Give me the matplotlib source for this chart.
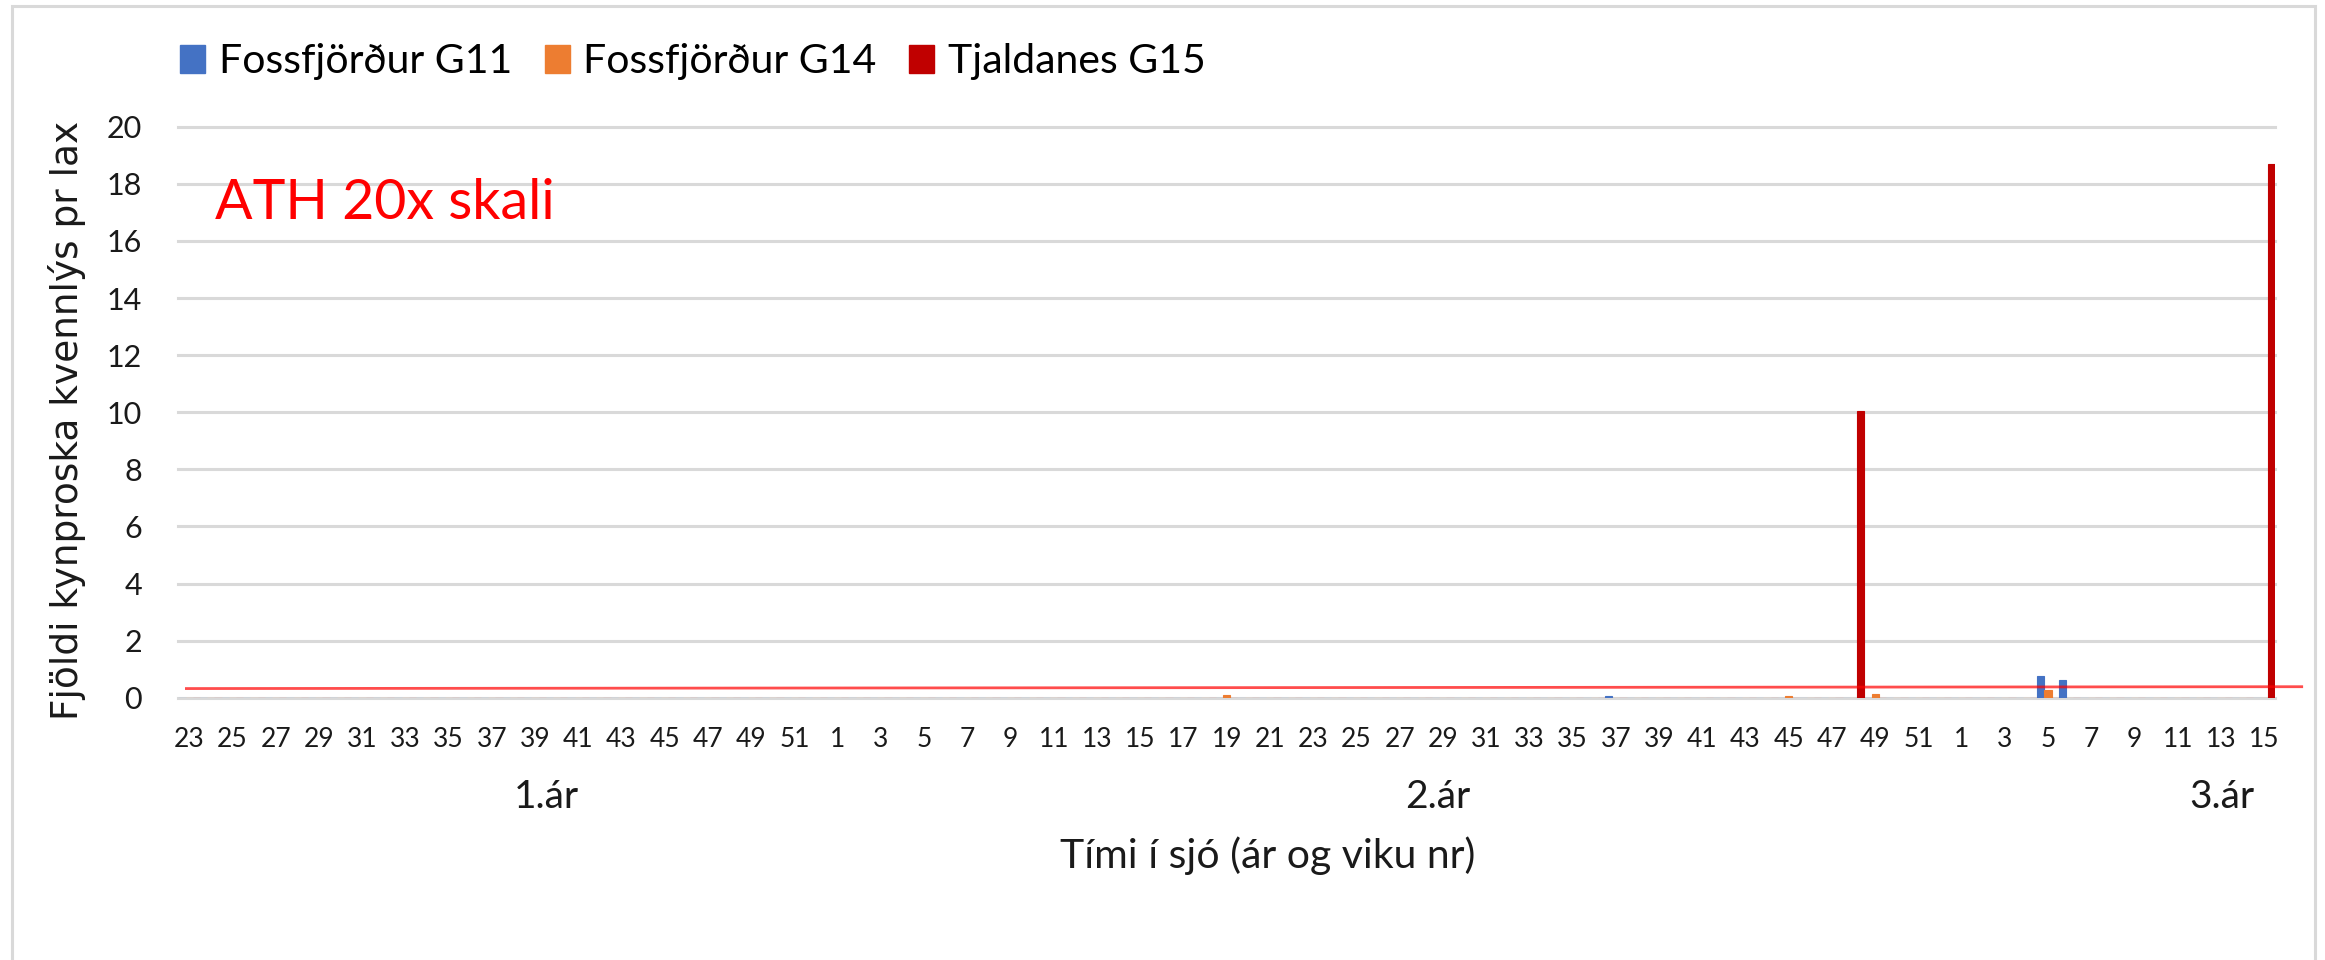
import matplotlib
matplotlib.use("Agg")
import matplotlib.pyplot as plt
from matplotlib.patches import Patch, Rectangle
import numpy as np

# ---------------- data ----------------
year1_weeks = list(range(23, 53))   # 1. ár
year2_weeks = list(range(1, 53))    # 2. ár
year3_weeks = list(range(1, 16))    # 3. ár

series_names = ["Fossfjörður G11", "Fossfjörður G14", "Tjaldanes G15"]
# sparse values: (year, week) -> value
g11_values = {(2, 37): 0.07, (3, 5): 0.75, (3, 6): 0.62}
g14_values = {(2, 19): 0.10, (2, 45): 0.07, (2, 49): 0.14, (3, 5): 0.28}
g15_values = {(2, 48): 10.05, (3, 15): 18.7}

threshold_start = 0.32   # red reference line, left end
threshold_end = 0.385    # red reference line, right end

y_ticks = list(range(0, 21, 2))
group_labels = ["1.ár", "2.ár", "3.ár"]

# ---------------- build categories ----------------
cats = [(1, w) for w in year1_weeks] + [(2, w) for w in year2_weeks] + [(3, w) for w in year3_weeks]
n = len(cats)
x = np.arange(n)
vals = [np.array([d.get(c, 0.0) for c in cats]) for d in (g11_values, g14_values, g15_values)]

colors = ["#4472C4", "#ED7D31", "#C00000"]
GRID = "#D9D9D9"
FONT = "Lato"

W, H = 2325, 960
fig = plt.figure(figsize=(W / 100, H / 100), dpi=100)
ax = fig.add_axes([178.3 / W, 1 - 697.7 / H, (2275 - 178.3) / W, (697.7 - 126.7) / H])

bw = 1 / 3
for i, (v, c) in enumerate(zip(vals, colors)):
    ax.bar(x + (i - 1) * bw, v, width=bw, color=c, edgecolor=c, linewidth=0.8, zorder=3)

ax.set_xlim(-0.5, n - 0.5)
ax.set_ylim(0, 20)
for s in ax.spines.values():
    s.set_visible(False)
for v in y_ticks:
    ax.axhline(v, color=GRID, lw=2.2, zorder=1, clip_on=False)

ax.set_yticks(y_ticks)
ax.set_yticklabels([str(v) for v in y_ticks], fontsize=22, family=FONT, color="#1a1a1a")
tick_pos = x[::2]
ax.set_xticks(tick_pos)
ax.set_xticklabels([str(cats[i][1]) for i in tick_pos], fontsize=19, family=FONT, color="#1a1a1a")
ax.tick_params(axis="y", length=0, pad=26)
ax.tick_params(axis="x", length=0, pad=21)

# red reference line (drawn shape, extends beyond plot)
ax.plot([-0.19, n + 0.8], [threshold_start, threshold_end], color="#FF0000", alpha=0.7,
        lw=2, clip_on=False, zorder=6, solid_capstyle="butt")

# legend
handles = [Patch(facecolor=c, edgecolor=c) for c in colors]
fig.legend(handles, series_names, loc="center left", bbox_to_anchor=(180 / W, 1 - 62 / H),
           ncol=3, frameon=False, prop={"family": FONT, "size": 29.5},
           handlelength=0.62, handleheight=0.65, handletextpad=0.32, columnspacing=0.8,
           borderpad=0, borderaxespad=0)

# texts
fig.text(215 / W, 1 - 219 / H, "ATH 20x skali", color="#FF0000", fontsize=40, family=FONT,
         ha="left", va="baseline")
fig.text(67 / W, 1 - 420 / H, "Fjöldi kynproska kvennlýs pr lax", rotation=90, fontsize=27,
         family="DejaVu Sans", ha="center", va="center", color="#1a1a1a")
for lab, gx in zip(group_labels, [546, 1438, 2222]):
    fig.text(gx / W, 1 - 808 / H, lab, fontsize=28, family=FONT, ha="center", va="baseline",
             color="#1a1a1a")
fig.text(1268 / W, 1 - 868 / H, "Tími í sjó (ár og viku nr)", fontsize=29.5, family=FONT,
         ha="center", va="baseline", color="#1a1a1a")

# chart-area border
fig.add_artist(Rectangle((11.5 / W, -0.1), (2314.5 - 11.5) / W, 1.1 - 6 / H,
                         transform=fig.transFigure, fill=False, edgecolor=GRID, lw=2.2))

fig.savefig("out.png", dpi=100, facecolor="white")
